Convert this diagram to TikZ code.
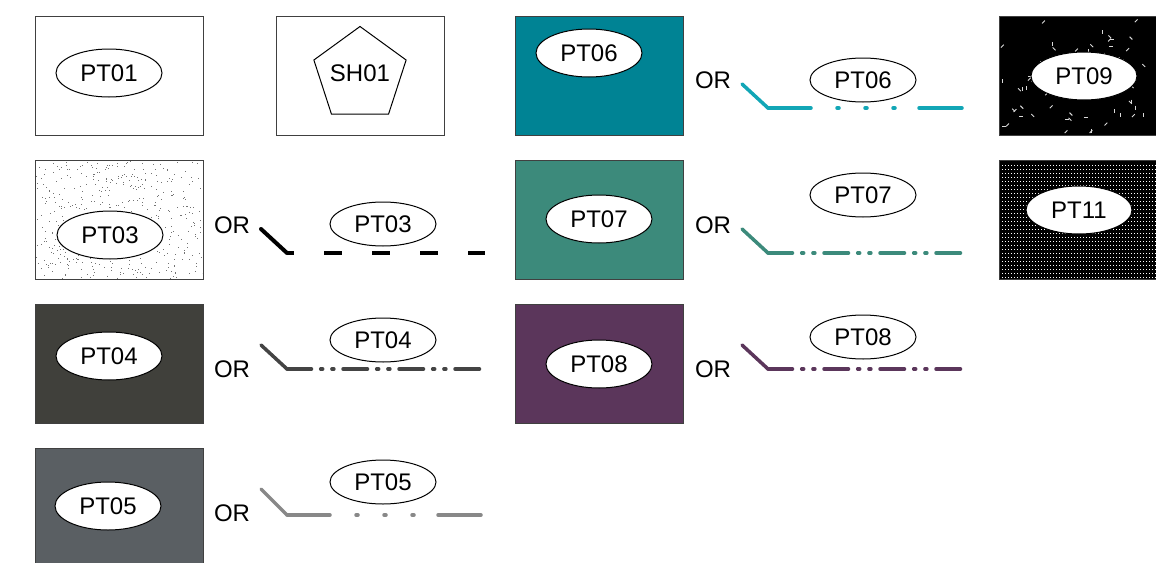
\documentclass[tikz,border=0pt]{standalone}
\usepackage{fontspec}
\setmainfont{Liberation Sans}
\usetikzlibrary{shapes.geometric,patterns.meta}

\definecolor{teal06}{HTML}{008394}
\definecolor{teal06line}{HTML}{12A6B6}
\definecolor{green07}{HTML}{3C8A7B}
\definecolor{dark04}{HTML}{40403B}
\definecolor{dark04line}{HTML}{444444}
\definecolor{grey05}{HTML}{5A5F63}
\definecolor{grey05line}{HTML}{888888}
\definecolor{purple08}{HTML}{5B365B}
\definecolor{rim}{HTML}{404040}

\tikzdeclarepattern{
  name=finedots,
  type=uncolored,
  bounding box={(0,0) and (1.5pt,2pt)},
  tile size={(1.5pt,2pt)},
  code={\fill (0,0) rectangle (0.6pt,0.6pt);}
}

\begin{document}
\begin{tikzpicture}[x=0.5pt,y=-0.5pt,
    every node/.style={font=\fontsize{12pt}{14pt}\selectfont},
    swatch/.style={draw=rim, line width=0.5pt},
    oval/.style={draw, ellipse, fill=white, line width=0.5pt, inner sep=0pt,
                 minimum width=53pt, minimum height=24pt},
    tag/.style={draw, ellipse, line width=0.5pt, inner sep=0pt,
                minimum width=53pt, minimum height=22pt},
    sample/.style={line width=1.75pt, line cap=round},
    dashdots/.style={sample, dash pattern=on 21.5pt off 13pt on 1pt off 13pt on 1pt off 13pt on 1pt off 12pt},
    dashdotdot/.style={sample, dash pattern=on 12.25pt off 4.6pt on 1pt off 4.6pt on 1pt off 4.55pt}]
  \useasboundingbox (0,0) rectangle (1156,562);

  % Fill swatches:
  \draw[swatch] (35,16) rectangle (203,135);
  \draw[swatch] (276,16) rectangle (444,135);
  \fill[teal06] (515,16) rectangle (683,135);
  \draw[swatch] (515,16) rectangle (683,135);
  \draw[swatch, fill=black] (999,16) rectangle (1160,135);
  \draw[swatch] (35,160) rectangle (203,279);
  \draw[swatch, fill=green07] (515,160) rectangle (683,279);
  \draw[swatch, fill=black] (999,160) rectangle (1160,279);
  \fill[pattern=finedots, pattern color=white] (1001,162) rectangle (1160,277);
  \draw[swatch, fill=dark04] (35,304) rectangle (203,423);
  \draw[swatch, fill=purple08] (515,304) rectangle (683,423);
  \draw[swatch, fill=grey05] (35,448) rectangle (203,570);

  % stipple and sprinkles
  \pgfmathsetseed{7}
  \begin{scope}
    \clip (36,161) rectangle (202,278);
    \foreach \i in {1,...,480}{
      \pgfmathsetmacro\dx{36+166*rnd}
      \pgfmathsetmacro\dy{161+117*rnd}
      \fill[black!55] (\dx,\dy) rectangle ++(1,1);
    }
  \end{scope}
  \begin{scope}
    \clip (1000,17) rectangle (1156,134);
    \foreach \i in {1,...,65}{
      \pgfmathsetmacro\dx{1002+152*rnd}
      \pgfmathsetmacro\dy{19+112*rnd}
      \pgfmathsetmacro\da{45*int(4*rnd)}
      \draw[white!85!black, line width=0.45pt] (\dx,\dy) -- ++(\da:4);
    }
  \end{scope}

  % Labels in the swatches:
  \node[oval] (pt01) at (109,73) {PT01};
  \node[draw, regular polygon, regular polygon sides=5, line width=0.5pt,
        inner sep=0pt, minimum size=48.5pt] (sh01) at (360,75) {};
  \node (sh01text) at (360,73) {SH01};
  \node[oval] (pt06) at (589,53) {PT06};
  \node[oval] (pt09) at (1084,76) {PT09};
  \node[oval] (pt03) at (110,235) {PT03};
  \node[oval] (pt07) at (599,219) {PT07};
  \node[oval] (pt11) at (1079,210) {PT11};
  \node[oval] (pt04) at (109,356) {PT04};
  \node[oval] (pt08) at (599,364) {PT08};
  \node[oval] (pt05) at (108,506) {PT05};

  % Line samples:
  \node (or03) at (232,225) {OR};
  \node[tag] (ln03) at (383,224) {PT03};
  \draw[line width=2pt, line cap=round] (261,229) -- (287,253);
  \draw[line width=2pt, dash pattern=on 9pt off 15pt, dash phase=5.5pt] (287,253) -- (485,253);

  \node (or04) at (232,369) {OR};
  \node[tag] (ln04) at (383,340) {PT04};
  \draw[sample, dark04line] (261,345) -- (287,369);
  \draw[dashdotdot, dark04line] (287,369) -- (485,369);

  \node (or05) at (232,513) {OR};
  \node[tag] (ln05) at (383,482) {PT05};
  \draw[sample, grey05line] (261,489) -- (287,515);
  \draw[dashdots, grey05line] (287,515) -- (485,515);

  \node (or06) at (713,80) {OR};
  \node[tag] (ln06) at (863,80) {PT06};
  \draw[sample, teal06line] (742,84) -- (768,108);
  \draw[dashdots, teal06line] (768,108) -- (966,108);

  \node (or07) at (713,225) {OR};
  \node[tag] (ln07) at (863,195) {PT07};
  \draw[sample, green07] (742,229) -- (768,253);
  \draw[dashdotdot, green07] (768,253) -- (966,253);

  \node (or08) at (713,369) {OR};
  \node[tag] (ln08) at (863,337) {PT08};
  \draw[sample, purple08] (742,345) -- (768,369);
  \draw[dashdotdot, purple08] (768,369) -- (966,369);
\end{tikzpicture}
\end{document}
